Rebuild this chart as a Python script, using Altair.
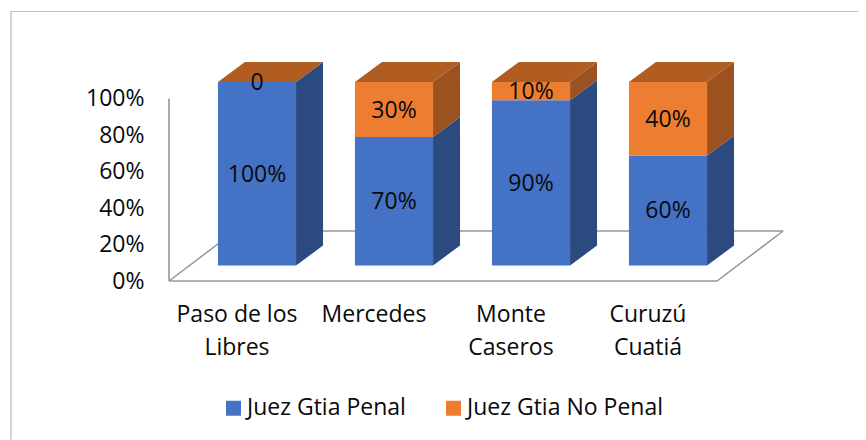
import altair as alt

# ---- values ----
CATEGORIES = [["Paso de los", "Libres"], ["Mercedes"], ["Monte", "Caseros"], ["Curuzú", "Cuatiá"]]
PENAL = [100, 70, 90, 60]
NO_PENAL = [0, 30, 10, 40]
PENAL_LABELS = ["100%", "70%", "90%", "60%"]
NO_PENAL_LABELS = ["0", "30%", "10%", "40%"]
SERIES = ["Juez Gtia Penal", "Juez Gtia No Penal"]
Y_TICKS = [0, 20, 40, 60, 80, 100]

# ---- 3D geometry in data units ----
HALF = 0.285      # half bar width (categories)
DX = 0.197        # depth in x (categories)
DY = 10.9         # depth in y (percent)
LABEL_SHIFT = -0.146   # category labels sit on the front edge of the floor
WALL_X, FRONT_R, BACK_L, BACK_R, BACK_Y = -0.642, 3.358, -0.16, 3.84, 27.4
CAT_BASE = -30.8

FONT = "Open Sans"
FS = 23
X_SCALE = alt.Scale(domain=[-1.7956, 4.3869], nice=False, zero=False)
Y_MAIN = alt.Scale(domain=[-94.8, 138.4], nice=False, zero=False)
Y_BACK = alt.Scale(domain=[-86.85, 147.7], nice=False, zero=False)

fronts, sides, tops, labels = [], [], [], []
for i, (a, b) in enumerate(zip(PENAL, NO_PENAL)):
    segs = [(SERIES[0], 0, a, PENAL_LABELS[i]), (SERIES[1], a, a + b, NO_PENAL_LABELS[i])]
    for s, lo, hi, lab in segs:
        fronts.append({"x": i - HALF, "x2": i + HALF, "y": lo, "y2": hi, "series": s})
        labels.append({"x": i, "y": (lo + hi) / 2, "label": lab})
        sides.append({"bar": i, "series": s, "x": i + HALF, "y": lo, "y2": hi})
        sides.append({"bar": i, "series": s, "x": i + HALF + DX, "y": lo + DY, "y2": hi + DY})
    t = a + b
    tops += [
        {"bar": i, "x": i - HALF, "y": t, "y2": t},
        {"bar": i, "x": i - HALF + DX, "y": t, "y2": t + DY},
        {"bar": i, "x": i + HALF, "y": t, "y2": t + DY},
        {"bar": i, "x": i + HALF + DX, "y": t + DY, "y2": t + DY},
    ]

floor_lines = [
    {"seg": "front", "x": WALL_X, "y": 0}, {"seg": "front", "x": FRONT_R, "y": 0},
    {"seg": "back", "x": BACK_L, "y": BACK_Y}, {"seg": "back", "x": BACK_R, "y": BACK_Y},
    {"seg": "left", "x": WALL_X, "y": 0}, {"seg": "left", "x": BACK_L, "y": BACK_Y},
    {"seg": "right", "x": FRONT_R, "y": 0}, {"seg": "right", "x": BACK_R, "y": BACK_Y},
]
cats = [{"x": i + LABEL_SHIFT, "y": CAT_BASE, "text": c} for i, c in enumerate(CATEGORIES)]

x = alt.X("x:Q", scale=X_SCALE, axis=None)
y = alt.Y("y:Q", scale=Y_MAIN, axis=None, stack=None)


def side_layer(series, colour):
    rows = [r for r in sides if r["series"] == series]
    return alt.Chart(alt.Data(values=rows)).mark_area(interpolate="linear").encode(
        x=x, y=y, y2="y2:Q", detail="bar:N", color=alt.value(colour)
    )


wall = alt.Chart(alt.Data(values=[{"x": WALL_X, "y": 0, "y2": 100}])).mark_rule(
    color="#969696", strokeWidth=1.6
).encode(
    x=x,
    y=alt.Y(
        "y:Q", scale=Y_BACK,
        axis=alt.Axis(
            values=Y_TICKS, labelExpr="datum.value + '%'", title=None, domain=False, ticks=False,
            grid=False, offset=-133, labelPadding=0, labelFont=FONT, labelFontSize=FS,
            labelColor="#0A0A0A",
        ),
    ),
    y2="y2:Q",
)
floor = alt.Chart(alt.Data(values=floor_lines)).mark_line(color="#969696", strokeWidth=1.5).encode(
    x=x, y=alt.Y("y:Q", scale=Y_BACK, axis=None), detail="seg:N"
)
side_blue = side_layer(SERIES[0], "#2B4A7F")
side_orange = side_layer(SERIES[1], "#9C5220")
top = alt.Chart(alt.Data(values=tops)).mark_area(interpolate="linear", color="#B15D22").encode(
    x=x, y=y, y2="y2:Q", detail="bar:N"
)
front = alt.Chart(alt.Data(values=fronts)).mark_rect().encode(
    x=x, x2="x2:Q", y=y, y2="y2:Q",
    color=alt.Color(
        "series:N",
        scale=alt.Scale(domain=SERIES, range=["#4472C4", "#ED7D31"]),
        legend=alt.Legend(
            title=None, orient="none", direction="horizontal", legendX=211, legendY=385,
            symbolType="square", symbolSize=225, symbolStrokeWidth=0, labelFont=FONT,
            labelFontSize=23, labelColor="#0A0A0A", labelOffset=2, columnPadding=36, labelLimit=400,
        ),
    ),
)
value_text = alt.Chart(alt.Data(values=labels)).mark_text(
    font=FONT, fontSize=FS, color="#0A0A0A", baseline="middle", dy=1
).encode(x=x, y=y, text="label:N")
cat_text = alt.Chart(alt.Data(values=cats)).mark_text(
    font=FONT, fontSize=FS, color="#0A0A0A", baseline="alphabetic", lineHeight=32.7
).encode(x=x, y=y, text="text:N")

# outer frame: only the top and left edges fall inside the picture
frame_top = alt.Chart(alt.Data(values=[{"k": 1}])).mark_rule(color="#BFBFBF", strokeWidth=1).encode(
    x=alt.value(0), x2=alt.value(847), y=alt.value(0)
)
frame_left = alt.Chart(alt.Data(values=[{"k": 1}])).mark_rule(color="#A6A6A6", strokeWidth=1).encode(
    x=alt.value(0), y=alt.value(0), y2=alt.value(428)
)

chart = alt.layer(
    frame_top, frame_left, wall, floor, side_blue, side_orange, top, front, value_text, cat_text
).resolve_scale(y="independent").properties(
    width=847, height=428, background="white",
    padding={"left": 3, "top": 3.5, "right": 0, "bottom": 0},
    autosize=alt.AutoSizeParams(type="none"),
).configure_view(strokeWidth=0)

chart.save("out.html", embed_options={"renderer": "svg", "actions": False})
